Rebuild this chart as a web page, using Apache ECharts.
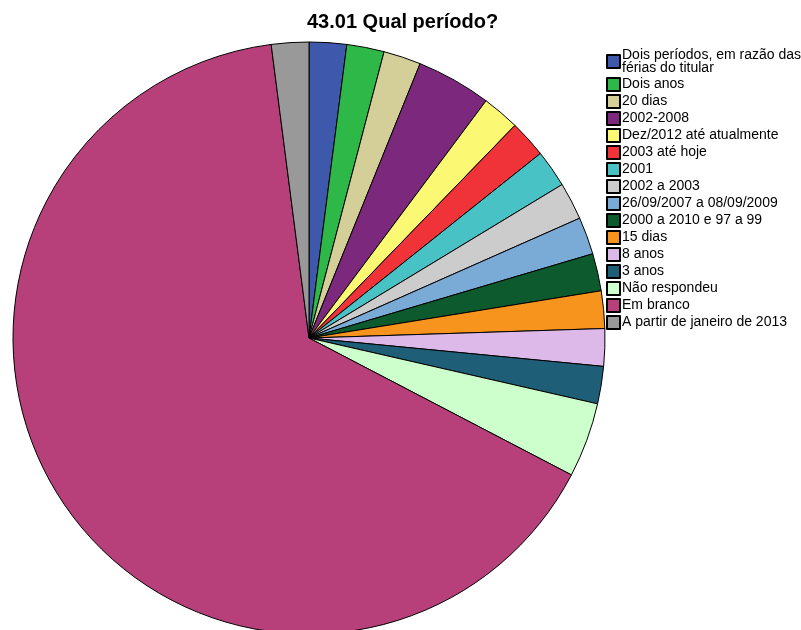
<!DOCTYPE html>
<html>
<head>
<meta charset="utf-8">
<script src="https://cdn.jsdelivr.net/npm/echarts@6/dist/echarts.min.js"></script>
<style>
  html, body { margin: 0; padding: 0; background: #fff; }
  #chart { width: 801px; height: 630px; }
</style>
</head>
<body>
<div id="chart"></div>
<script>
// categories in drawing order (clockwise from 12 o'clock)
let categories = [
    'Dois períodos, em razão das férias do titular',
    'Dois anos',
    '20 dias',
    '2002-2008',
    'Dez/2012 até atualmente',
    '2003 até hoje',
    '2001',
    '2002 a 2003',
    '26/09/2007 a 08/09/2009',
    '2000 a 2010 e 97 a 99',
    '15 dias',
    '8 anos',
    '3 anos',
    'Não respondeu',
    'Em branco',
    'A partir de janeiro de 2013'
];

let counts = [1, 1, 1, 2, 1, 1, 1, 1, 1, 1, 1, 1, 1, 2, 32, 1];

let colors = [
    '#3e58ac', '#2eb848', '#d4cf98', '#7b287d', '#fbf873', '#ef3338',
    '#48c2c5', '#cccccc', '#7aaad6', '#0e5a2f', '#f7941d', '#ddb9ea',
    '#1f5e77', '#ccffcc', '#b8407a', '#999999'
];

let pieData = categories.map(function (name, i) {
    return {
        name: name,
        value: counts[i],
        itemStyle: { color: colors[i] }
    };
});

let option = {
    animation: false,
    backgroundColor: '#fff',
    title: {
        text: '43.01 Qual período?',
        left: 307,
        top: 12,
        padding: 0,
        textStyle: {
            fontFamily: 'Liberation Sans',
            fontSize: 20,
            fontWeight: 'bold',
            color: '#000'
        }
    },
    legend: {
        orient: 'vertical',
        left: 606,
        top: 48,
        padding: 0,
        itemWidth: 13,
        itemHeight: 13,
        itemGap: 2,
        icon: 'rect',
        selectedMode: false,
        formatter: function (name) {
            if (name === categories[0]) {
                return 'Dois períodos, em razão das\nférias do titular';
            }
            return name;
        },
        textStyle: {
            fontFamily: 'Liberation Sans',
            fontSize: 14,
            lineHeight: 13,
            color: '#000',
            padding: [0, 0, 0, -3]
        },
        data: categories
    },
    series: [
        {
            type: 'pie',
            center: [309, 338],
            radius: 296,
            startAngle: 90,
            clockwise: true,
            avoidLabelOverlap: false,
            label: { show: false },
            labelLine: { show: false },
            emphasis: { disabled: true },
            itemStyle: {
                borderColor: '#000',
                borderWidth: 1
            },
            data: pieData
        }
    ]
};

var chart = echarts.init(document.getElementById('chart'));
chart.setOption(option);
</script>
</body>
</html>
